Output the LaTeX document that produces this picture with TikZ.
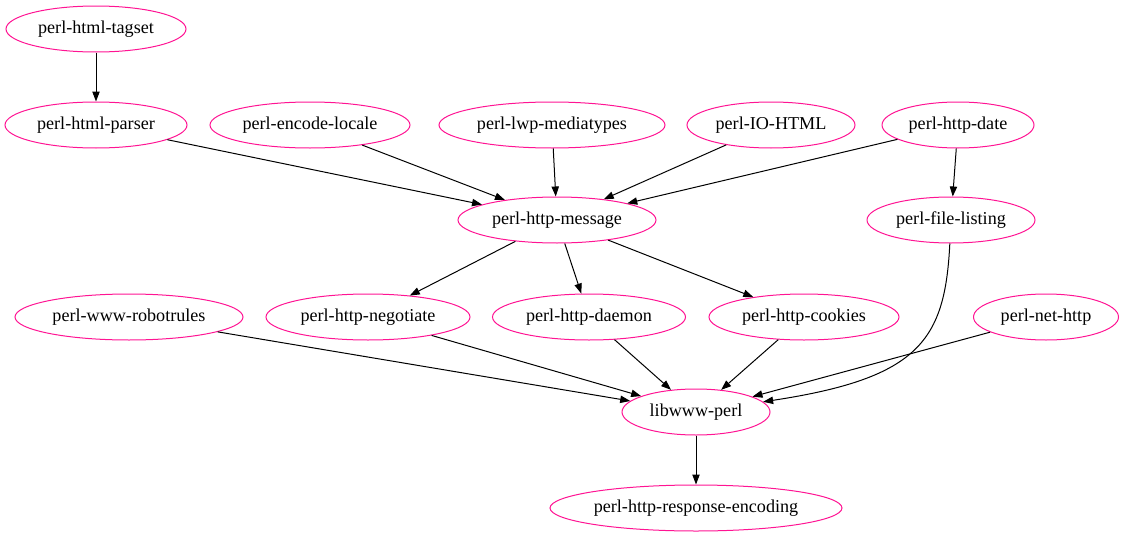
\documentclass[tikz,border=0pt]{standalone}
\usepackage{fontspec}
\setmainfont{Liberation Serif}
\usepackage{tikz}
\usetikzlibrary{shapes.geometric}
\usetikzlibrary{arrows.meta}
\definecolor{pkgpink}{RGB}{255,20,147}
\tikzset{
	pkg node/.style={ellipse,draw=pkgpink,line width=0.75pt,inner sep=0pt,
		minimum height=34.5pt,minimum width=#1*0.75pt,font=\fontsize{13.6}{16}\selectfont},
	dep/.style={line width=0.75pt}
}

\begin{document}
\begin{tikzpicture}[x=0.75pt,y=-0.75pt,->,>={Triangle[length=7.5pt,width=5.5pt]}]
	\useasboundingbox (0,0) rectangle (1125,539);
	% rank 1 and 2
	\node [pkg node=180] (tagset) at (96,29) {perl-html-tagset};
	\node [pkg node=182] (parser) at (96,125) {perl-html-parser};
	\node [pkg node=200] (locale) at (310,125) {perl-encode-locale};
	\node [pkg node=226] (mediatypes) at (552,125) {perl-lwp-mediatypes};
	\node [pkg node=168] (iohtml) at (771,125) {perl-IO-HTML};
	\node [pkg node=152] (date) at (958,125) {perl-http-date};
	% rank 3
	\node [pkg node=198] (message) at (557,220) {perl-http-message};
	\node [pkg node=168] (listing) at (951,220) {perl-file-listing};
	% rank 4
	\node [pkg node=228] (robotrules) at (129,317) {perl-www-robotrules};
	\node [pkg node=204] (negotiate) at (368,317) {perl-http-negotiate};
	\node [pkg node=193] (daemon) at (589,317) {perl-http-daemon};
	\node [pkg node=190] (cookies) at (804,317) {perl-http-cookies};
	\node [pkg node=145] (nethttp) at (1046,317) {perl-net-http};
	% rank 5 and 6
	\node [pkg node=148] (libwww) at (696,412) {libwww-perl};
	\node [pkg node=292] (encoding) at (696,508) {perl-http-response-encoding};

	\draw [dep] (tagset) -- (parser);
	\draw [dep] (parser) -- (message);
	\draw [dep] (locale) -- (message);
	\draw [dep] (mediatypes) -- (message);
	\draw [dep] (iohtml) -- (message);
	\draw [dep] (date) -- (message);
	\draw [dep] (date) -- (listing);
	\draw [dep] (message) -- (negotiate);
	\draw [dep] (message) -- (daemon);
	\draw [dep] (message) -- (cookies);
	\draw [dep] (robotrules) -- (libwww);
	\draw [dep] (negotiate) -- (libwww);
	\draw [dep] (daemon) -- (libwww);
	\draw [dep] (cookies) -- (libwww);
	\draw [dep] (nethttp) -- (libwww);
	\draw [dep] (listing) .. controls (945,340) and (920,378) .. (libwww);
	\draw [dep] (libwww) -- (encoding);
\end{tikzpicture}
\end{document}
